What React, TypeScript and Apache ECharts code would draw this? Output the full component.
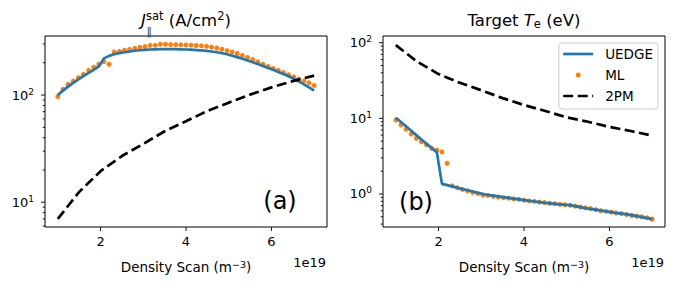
import React, { useEffect, useRef } from 'react';
import * as echarts from 'echarts';

// ---------- data (density in units of 1e19 m^-3) ----------
const DENSITY = [1.00, 1.12, 1.24, 1.36, 1.48, 1.60, 1.72, 1.84, 1.96, 2.08, 2.20, 2.32, 2.44, 2.56, 2.68, 2.80, 2.92, 3.04, 3.16, 3.28, 3.40, 3.52, 3.64, 3.76, 3.88, 4.00, 4.12, 4.24, 4.36, 4.48, 4.60, 4.72, 4.84, 4.96, 5.08, 5.20, 5.32, 5.44, 5.56, 5.68, 5.80, 5.92, 6.04, 6.16, 6.28, 6.40, 6.52, 6.64, 6.76, 6.88, 7.00];

const JSAT_UEDGE = [100, 110, 120, 130, 140, 150, 161, 172, 185, 220, 232, 240, 246, 251, 255, 259, 262, 264, 266, 267, 268, 268, 268, 268, 267, 266, 265, 263, 261, 258, 255, 251, 246, 240, 233, 226, 218, 210, 202, 195, 187, 179, 172, 164, 157, 150, 142, 134, 126, 118, 110];
const JSAT_ML = [97, 113, 126, 135, 145, 156, 170, 182, 194, 205, 194, 252, 256, 262, 267, 273, 279, 283, 291, 291, 298, 298, 296, 295, 294, 293, 292, 290, 288, 285, 280, 275, 268, 260, 252, 244, 234, 224, 214, 204, 194, 185, 177, 170, 162, 155, 148, 141, 135, 130, 123];

const TE_UEDGE = [10.2, 8.95, 7.85, 6.85, 6.0, 5.25, 4.6, 4.05, 3.55, 1.36, 1.31, 1.26, 1.21, 1.16, 1.12, 1.08, 1.04, 1.00, 0.97, 0.95, 0.93, 0.91, 0.89, 0.87, 0.85, 0.83, 0.81, 0.795, 0.78, 0.765, 0.75, 0.74, 0.73, 0.72, 0.71, 0.69, 0.67, 0.65, 0.635, 0.62, 0.605, 0.59, 0.575, 0.56, 0.55, 0.54, 0.525, 0.51, 0.495, 0.48, 0.465];
const TE_ML = [9.5, 8.2, 7.2, 6.2, 5.45, 4.9, 4.45, 4.0, 3.8, 3.6, 2.55, 1.28, 1.21, 1.15, 1.10, 1.05, 1.01, 0.97, 0.96, 0.93, 0.91, 0.89, 0.88, 0.86, 0.85, 0.83, 0.81, 0.80, 0.78, 0.77, 0.755, 0.745, 0.73, 0.72, 0.71, 0.69, 0.67, 0.655, 0.64, 0.62, 0.60, 0.59, 0.575, 0.56, 0.55, 0.535, 0.52, 0.51, 0.50, 0.485, 0.465];

const DENSITY_2PM = [1.0, 1.5, 2.0, 2.5, 3.0, 3.5, 4.0, 4.5, 5.0, 5.5, 6.0, 6.5, 7.0];
const JSAT_2PM = [7.0, 12.5, 19.5, 27, 35, 46, 57, 71, 85, 101, 118, 135, 152];
const TE_2PM = [93, 56, 38.5, 29.5, 23.5, 18.5, 15, 12.5, 10.3, 9.0, 7.7, 6.8, 5.9];

// tick values
const X_TICKS = [2, 4, 6];
const J_MAJOR = [10, 100];
const J_MINOR = [6, 7, 8, 9, 20, 30, 40, 50, 60, 70, 80, 90, 200, 300];
const TE_MAJOR = [1, 10, 100];
const TE_MINOR = [0.4, 0.5, 0.6, 0.7, 0.8, 0.9, 2, 3, 4, 5, 6, 7, 8, 9, 20, 30, 40, 50, 60, 70, 80, 90];

// axis limits
const X_MIN = 0.7;
const X_MAX = 7.3;
const J_MIN = 5.88;
const J_MAX = 355.6;
const TE_MIN = 0.366;
const TE_MAX = 122.6;

const FONT = 'DejaVu Sans';
const BLUE = '#1f77b4';
const ORANGE = '#ff7f0e';
const HIDDEN = { color: 'rgba(0,0,0,0)', borderWidth: 0, borderColor: 'rgba(0,0,0,0)' };

const pairs = (xs: number[], ys: number[]) => xs.map((x, i) => [x, ys[i]]);

function tickSeries(data: number[][], idx: number, len: number, dir: 'x' | 'y') {
  return {
    type: 'custom',
    xAxisIndex: idx,
    yAxisIndex: idx,
    silent: true,
    clip: false,
    z: 5,
    data,
    renderItem: (_p: any, api: any) => {
      const p = api.coord([api.value(0), api.value(1)]);
      const shape = dir === 'y'
        ? { x1: p[0], y1: p[1], x2: p[0] - len, y2: p[1] }
        : { x1: p[0], y1: p[1], x2: p[0], y2: p[1] + len };
      return { type: 'line', shape, style: { stroke: '#000', lineWidth: 0.9 } };
    },
  };
}

const xFormatter = (v: number) => (X_TICKS.some((t) => Math.abs(t - v) < 1e-9) ? String(v) : '');
const yFormatter = (v: number) => {
  const e = Math.log10(v);
  const r = Math.round(e);
  if (Math.abs(e - r) > 1e-6) return '';
  return `{b|10}{s|${r}}`;
};

const yRich = {
  b: { fontSize: 13, fontFamily: FONT, color: '#000', lineHeight: 16 },
  s: { fontSize: 9, fontFamily: FONT, color: '#000', lineHeight: 9, verticalAlign: 'top' },
};

function xAxis(idx: number) {
  return {
    type: 'value',
    gridIndex: idx,
    min: X_MIN,
    max: X_MAX,
    splitNumber: 3,
    axisLine: { show: false },
    axisTick: { show: false },
    splitLine: { show: false },
    axisLabel: { formatter: xFormatter, fontSize: 13, fontFamily: FONT, color: '#000', margin: 8 },
    name: 'Density Scan (m{s|−3})',
    nameLocation: 'middle',
    nameGap: 32,
    nameTextStyle: {
      fontSize: 13.5,
      fontFamily: FONT,
      color: '#000',
      lineHeight: 16,
      rich: {
        s: { fontSize: 9.5, fontFamily: FONT, color: '#000', lineHeight: 9, verticalAlign: 'top' },
      },
    },
  };
}

function yAxis(idx: number, min: number, max: number, split: number) {
  return {
    type: 'log',
    logBase: 10,
    gridIndex: idx,
    min,
    max,
    splitNumber: split,
    axisLine: { show: false },
    axisTick: { show: false },
    minorTick: { show: false },
    splitLine: { show: false },
    axisLabel: { formatter: yFormatter, rich: yRich, margin: 11, color: '#000' },
  };
}

const titleRichBase = { fontFamily: FONT, color: '#000' };

const option: any = {
  animation: false,
  backgroundColor: '#fff',
  textStyle: { fontFamily: FONT },
  grid: [
    { left: 45, top: 36, width: 282, height: 191, show: true, borderColor: '#000', borderWidth: 1, backgroundColor: 'transparent', outerBoundsMode: 'none' },
    { left: 383, top: 36, width: 282, height: 191, show: true, borderColor: '#000', borderWidth: 1, backgroundColor: 'transparent', outerBoundsMode: 'none' },
  ],
  xAxis: [xAxis(0), xAxis(1)],
  yAxis: [yAxis(0, J_MIN, J_MAX, 2), yAxis(1, TE_MIN, TE_MAX, 3)],
  legend: {
    data: [
      { name: 'UEDGE', itemStyle: HIDDEN },
      { name: 'ML' },
      { name: '2PM', itemStyle: HIDDEN },
    ],
    orient: 'vertical',
    right: 20,
    top: 43,
    itemWidth: 30,
    itemHeight: 5,
    itemGap: 7,
    padding: [4, 5, 6, 3],
    borderColor: '#cccccc',
    borderWidth: 1,
    borderRadius: 3,
    backgroundColor: 'rgba(255,255,255,0.8)',
    lineStyle: { width: 2.7 },
    textStyle: { fontSize: 13.5, fontFamily: FONT, color: '#000', lineHeight: 14, padding: [0, 0, 0, 7] },
  },
  graphic: [
    {
      type: 'text', x: 186, y: 20,
      style: {
        text: '{j|J}{sp|sat}{t| (A/cm}{sp|2}{t|)}',
        align: 'center', verticalAlign: 'middle',
        rich: {
          j: { ...titleRichBase, fontSize: 16.5, fontStyle: 'italic', lineHeight: 20 },
          t: { ...titleRichBase, fontSize: 16.5, lineHeight: 20 },
          sp: { ...titleRichBase, fontSize: 11.5, lineHeight: 12, verticalAlign: 'top' },
        },
      },
    },
    {
      type: 'text', x: 146.5, y: 31.5,
      style: { text: '‖', font: `11px "${FONT}"`, fill: '#444', align: 'left', verticalAlign: 'middle' },
    },
    {
      type: 'text', x: 524, y: 20,
      style: {
        text: '{t|Target }{i|T}{sub|e}{t| (eV)}',
        align: 'center', verticalAlign: 'middle',
        rich: {
          t: { ...titleRichBase, fontSize: 16.5, lineHeight: 20 },
          i: { ...titleRichBase, fontSize: 16.5, fontStyle: 'italic', lineHeight: 20 },
          sub: { ...titleRichBase, fontSize: 11.5, lineHeight: 12, verticalAlign: 'bottom' },
        },
      },
    },
    {
      type: 'text', x: 280, y: 201,
      style: { text: '(a)', font: `24px "${FONT}"`, fill: '#000', align: 'center', verticalAlign: 'middle' },
    },
    {
      type: 'text', x: 416, y: 202,
      style: { text: '(b)', font: `24px "${FONT}"`, fill: '#000', align: 'center', verticalAlign: 'middle' },
    },
    {
      type: 'text', x: 326, y: 262,
      style: { text: '1e19', font: `13px "${FONT}"`, fill: '#000', align: 'right', verticalAlign: 'middle' },
    },
    {
      type: 'text', x: 664, y: 262,
      style: { text: '1e19', font: `13px "${FONT}"`, fill: '#000', align: 'right', verticalAlign: 'middle' },
    },
  ],
  series: [
    // left panel
    { name: 'UEDGE', type: 'line', xAxisIndex: 0, yAxisIndex: 0, data: pairs(DENSITY, JSAT_UEDGE), symbol: 'none', showSymbol: false, lineStyle: { color: BLUE, width: 2.7 }, itemStyle: { color: BLUE } },
    { name: 'ML', type: 'scatter', xAxisIndex: 0, yAxisIndex: 0, data: pairs(DENSITY, JSAT_ML), symbol: 'circle', symbolSize: 5, itemStyle: { color: ORANGE, opacity: 1 } },
    { name: '2PM', type: 'line', xAxisIndex: 0, yAxisIndex: 0, data: pairs(DENSITY_2PM, JSAT_2PM), symbol: 'none', showSymbol: false, lineStyle: { color: '#000', width: 2.7, type: [10, 4.5] }, itemStyle: { color: '#000' } },
    // right panel
    { name: 'UEDGE', type: 'line', xAxisIndex: 1, yAxisIndex: 1, data: pairs(DENSITY, TE_UEDGE), symbol: 'none', showSymbol: false, lineStyle: { color: BLUE, width: 2.7 }, itemStyle: { color: BLUE } },
    { name: 'ML', type: 'scatter', xAxisIndex: 1, yAxisIndex: 1, data: pairs(DENSITY, TE_ML), symbol: 'circle', symbolSize: 5, itemStyle: { color: ORANGE, opacity: 1 } },
    { name: '2PM', type: 'line', xAxisIndex: 1, yAxisIndex: 1, data: pairs(DENSITY_2PM, TE_2PM), symbol: 'none', showSymbol: false, lineStyle: { color: '#000', width: 2.7, type: [10, 4.5] }, itemStyle: { color: '#000' } },
    // tick marks (drawn through the axes' scales)
    tickSeries(X_TICKS.map((v) => [v, J_MIN]), 0, 4, 'x'),
    tickSeries(J_MAJOR.map((v) => [X_MIN, v]), 0, 4, 'y'),
    tickSeries(J_MINOR.map((v) => [X_MIN, v]), 0, 2.3, 'y'),
    tickSeries(X_TICKS.map((v) => [v, TE_MIN]), 1, 4, 'x'),
    tickSeries(TE_MAJOR.map((v) => [X_MIN, v]), 1, 4, 'y'),
    tickSeries(TE_MINOR.map((v) => [X_MIN, v]), 1, 2.3, 'y'),
  ],
};

export default function App() {
  const ref = useRef<HTMLDivElement>(null);
  useEffect(() => {
    const chart = echarts.init(ref.current as HTMLDivElement, null, { renderer: 'svg' });
    chart.setOption(option);
    return () => chart.dispose();
  }, []);
  return (
    <div
      ref={ref}
      style={{ position: 'fixed', left: 0, top: 0, width: 678, height: 289, background: '#fff' }}
    />
  );
}
